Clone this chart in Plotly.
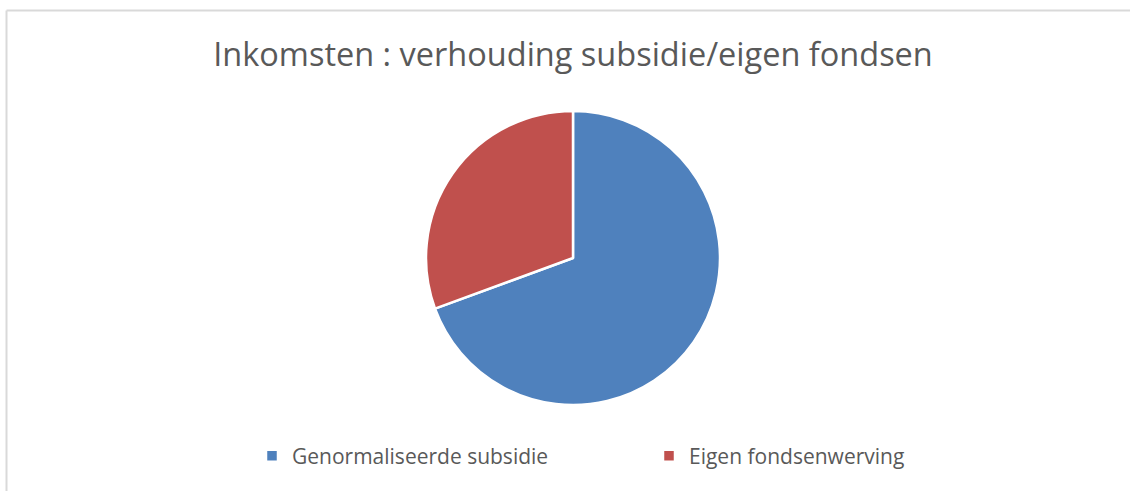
import plotly.graph_objects as go

labels = ["Genormaliseerde subsidie", "Eigen fondsenwerving"]
values = [69.4, 30.6]
colors = ["#4f81bd", "#c0504d"]

W, H = 1130, 491

fig = go.Figure(go.Pie(
    labels=labels, values=values, sort=False, direction="clockwise", rotation=0,
    marker=dict(colors=colors, line=dict(color="white", width=2.5)),
    textinfo="none", hoverinfo="label+percent",
    domain=dict(x=[426 / W, 720 / W], y=[1 - 405 / H, 1 - 111 / H]),
))

fig.update_layout(
    width=W, height=H,
    margin=dict(l=0, r=0, t=0, b=0),
    paper_bgcolor="white",
    title=dict(text="Inkomsten : verhouding subsidie/eigen fondsen",
               x=573 / W, xanchor="center", y=1 - 55 / H, yanchor="middle",
               font=dict(family="Open Sans", size=32.5, color="#595959")),
    legend=dict(orientation="h", x=649 / W, xanchor="center", y=1 - 456 / H, yanchor="middle",
                font=dict(family="Open Sans", size=21, color="#595959"),
                entrywidth=352, entrywidthmode="pixels", itemclick=False),
    shapes=[
        dict(type="line", xref="paper", yref="paper", x0=6.5 / W, x1=1.0, y0=1 - 10.5 / H, y1=1 - 10.5 / H,
             line=dict(color="#d9d9d9", width=2)),
        dict(type="line", xref="paper", yref="paper", x0=6.5 / W, x1=6.5 / W, y0=0, y1=1 - 10.5 / H,
             line=dict(color="#d9d9d9", width=2)),
    ],
)

fig.write_html("out.html", config={"displayModeBar": False},
               post_script="document.body.style.margin='0';")
